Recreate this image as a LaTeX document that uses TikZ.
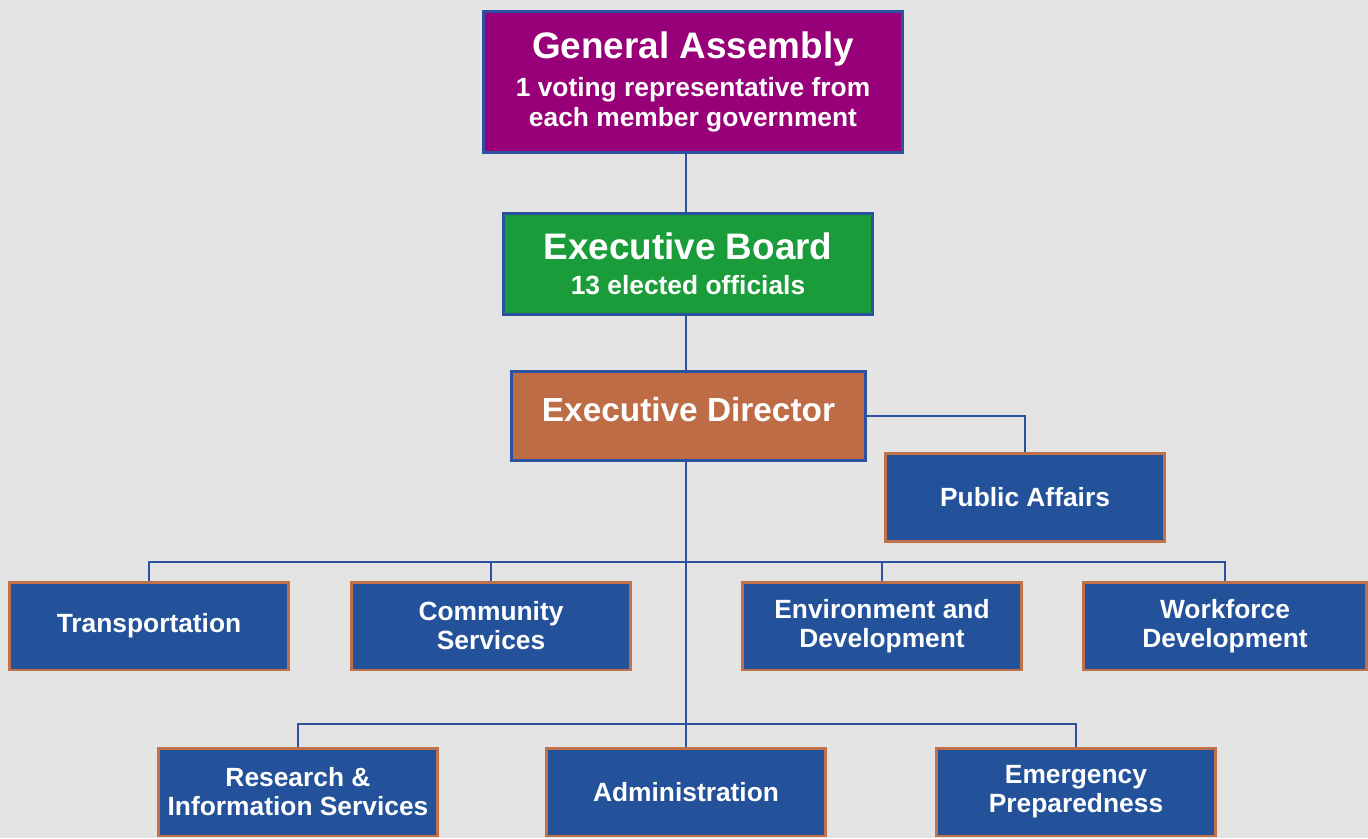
\documentclass[tikz,border=0pt]{standalone}
\usepackage{fontspec}
\setmainfont{Liberation Sans}
\usepackage{tikz}

\definecolor{gaPurple}{HTML}{970078}
\definecolor{ebGreen}{HTML}{1B9C3A}
\definecolor{edBrown}{HTML}{BD6C45}
\definecolor{unitBlue}{HTML}{23519A}
\definecolor{lineBlue}{HTML}{2B52A0}
\definecolor{rimOrange}{HTML}{C0714A}
\definecolor{paper}{HTML}{E4E4E4}

\begin{document}
\begin{tikzpicture}[x=0.02cm,y=-0.02cm,
    top/.style={draw=lineBlue,line width=1.7pt,text=white,
        font=\bfseries\fontsize{15}{17}\selectfont,align=center,inner sep=0pt},
    unit/.style={draw=rimOrange,fill=unitBlue,line width=1.7pt,text=white,
        font=\bfseries\fontsize{15}{16.5}\selectfont,align=center,
        inner sep=0pt,minimum width=5.6cm,minimum height=1.76cm},
    link/.style={draw=lineBlue,line width=1.1pt}]
        % background
        \fill[paper] (0,0) rectangle (1368,838);
        \useasboundingbox (0,0) rectangle (1368,838);
        % governing bodies
        \node[top,fill=gaPurple,minimum width=8.38cm,minimum height=2.82cm] (ga) at (693,82)
            {\fontsize{21}{17}\selectfont General Assembly\\[4.5pt]
             1 voting representative from\\
             each member government};
        \node[top,fill=ebGreen,minimum width=7.38cm,minimum height=2.02cm] (eb) at (688,264)
            {\fontsize{21}{17}\selectfont Executive Board\\[3pt]
             13 elected officials};
        \node[top,fill=edBrown,minimum width=7.08cm,minimum height=1.78cm,
            font=\bfseries\fontsize{19}{23}\selectfont] (ed) at (688.5,416)
            {\raisebox{7pt}{Executive Director}};
        % departments
        \node[unit] (pa) at (1025,497.5) {Public Affairs};
        \node[unit] (tr) at (149,626) {Transportation};
        \node[unit] (cs) at (491,626) {Community\\Services};
        \node[unit] (en) at (882,626) {Environment and\\Development};
        \node[unit,minimum width=5.66cm] (wf) at (1225,626) {Workforce\\Development};
        \node[unit] (rs) at (298,792) {Research \&\\Information Services};
        \node[unit] (ad) at (686,792) {Administration};
        \node[unit] (em) at (1076,792) {Emergency\\Preparedness};
        % connectors
        \coordinate (busA) at (686,562);
        \coordinate (busB) at (686,724);
        \draw[link] (ga.south -| ad) -- (eb.north -| ad);
        \draw[link] (eb.south -| ad) -- (ed.north -| ad);
        \draw[link] (ed.south -| ad) -- (ad.north);
        \draw[link] (ed.east) -| (pa.north);
        \draw[link] (tr.north) -- (tr.north |- busA) -- (wf.north |- busA) -- (wf.north);
        \draw[link] (cs.north) -- (cs.north |- busA);
        \draw[link] (en.north) -- (en.north |- busA);
        \draw[link] (rs.north) -- (rs.north |- busB) -- (em.north |- busB) -- (em.north);
    \end{tikzpicture}
\end{document}
